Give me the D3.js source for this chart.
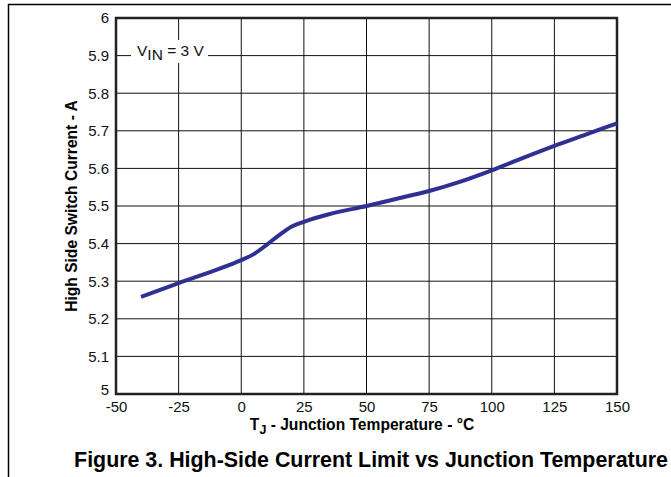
<!DOCTYPE html>
<html>
<head>
<meta charset="utf-8">
<script src="https://cdn.jsdelivr.net/npm/d3@7"></script>
<style>
  body { margin: 0; background: #fff; }
  svg { display: block; font-family: "Liberation Sans", Arial, sans-serif; }
</style>
</head>
<body>
<div id="chart"></div>
<script>
// junction temperature (°C) and current limit (A)
const tempC = [-40, -25, -10, 0, 5, 10, 15, 20, 25, 35, 50, 62.5, 75, 87.5, 100, 112.5, 125, 137.5, 150];
const currentA = [5.258, 5.295, 5.33, 5.356, 5.372, 5.396, 5.422, 5.445, 5.458, 5.478, 5.50, 5.52, 5.54, 5.565, 5.595, 5.628, 5.66, 5.69, 5.72];
const xTicks = [-50, -25, 0, 25, 50, 75, 100, 125, 150];
const yTicks = [5, 5.1, 5.2, 5.3, 5.4, 5.5, 5.6, 5.7, 5.8, 5.9, 6];

const W = 671, H = 477;
const margin = {left: 116, right: 54, top: 18, bottom: 83};

const svg = d3.select("#chart").append("svg")
	.attr("width", W)
	.attr("height", H);

// page frame
svg.append("line").attr("x1", 8).attr("x2", W).attr("y1", 4.5).attr("y2", 4.5)
	.attr("stroke", "#000").attr("stroke-width", 1.5);
svg.append("line").attr("x1", 8.5).attr("x2", 8.5).attr("y1", 4).attr("y2", H)
	.attr("stroke", "#000").attr("stroke-width", 1.5);

const x = d3.scaleLinear().domain([-50, 150]).range([margin.left, W - margin.right]);
const y = d3.scaleLinear().domain([5, 6]).range([H - margin.bottom, margin.top]);

// grid
const g = svg.append("g");
g.selectAll(".vg").data(xTicks).enter().append("line")
	.attr("x1", d => x(d)).attr("x2", d => x(d))
	.attr("y1", y(6)).attr("y2", y(5))
	.attr("stroke", "#111").attr("stroke-width", 1);
g.selectAll(".hg").data(yTicks).enter().append("line")
	.attr("x1", x(-50)).attr("x2", x(150))
	.attr("y1", d => y(d)).attr("y2", d => y(d))
	.attr("stroke", "#111").attr("stroke-width", 1);

// annotation box covering the grid
const ann = svg.append("g");
ann.append("rect")
	.attr("x", 131).attr("y", 40)
	.attr("width", 77).attr("height", 23)
	.attr("fill", "#fff");
const at = ann.append("text")
	.attr("x", 137).attr("y", y(5.9))
	.attr("font-size", 15.5).attr("fill", "#111");
at.append("tspan").text("V");
at.append("tspan").attr("dy", 4).text("IN");
at.append("tspan").attr("dy", -4).text(" = 3 V");

// plot frame
svg.append("rect")
	.attr("x", x(-50)).attr("y", y(6))
	.attr("width", x(150) - x(-50)).attr("height", y(5) - y(6))
	.attr("fill", "none").attr("stroke", "#222").attr("stroke-width", 2.5);

// axes
const xAxis = d3.axisBottom(x).tickValues(xTicks).tickSize(0).tickPadding(7).tickFormat(d => String(d));
const yAxis = d3.axisLeft(y).tickValues(yTicks).tickSize(0).tickPadding(7).tickFormat(d => String(d));
const xa = svg.append("g").attr("transform", "translate(0," + y(5) + ")").call(xAxis);
const ya = svg.append("g").attr("transform", "translate(" + x(-50) + ",0)").call(yAxis);
[xa, ya].forEach(a => {
	a.select(".domain").remove();
	a.selectAll("text").attr("font-size", 15).attr("fill", "#111")
		.attr("font-family", "'Liberation Sans', Arial, sans-serif");
});
ya.selectAll("text").attr("dy", d => d === 5 ? "0.05em" : "0.33em");
xa.selectAll("text").attr("dy", "0.71em");

// curve
const line = d3.line()
	.x((d, i) => x(tempC[i]))
	.y(d => y(d))
	.curve(d3.curveMonotoneX);
svg.append("path")
	.datum(currentA)
	.attr("d", line)
	.attr("fill", "none")
	.attr("stroke", "#2e3192")
	.attr("stroke-width", 4)
	.attr("stroke-linecap", "butt");

// axis titles
const xt = svg.append("text")
	.attr("x", 362).attr("y", 430)
	.attr("text-anchor", "middle").attr("font-weight", "bold").attr("font-size", 15.6);
xt.append("tspan").text("T");
xt.append("tspan").attr("dy", 4).attr("font-size", 12.5).text("J");
xt.append("tspan").attr("dy", -4).text(" - Junction Temperature - °C");

svg.append("text")
	.attr("transform", "translate(77,206) rotate(-90)")
	.attr("text-anchor", "middle").attr("font-weight", "bold").attr("font-size", 15.6)
	.text("High Side Switch Current - A");

svg.append("text")
	.attr("x", 371).attr("y", 467)
	.attr("text-anchor", "middle").attr("font-weight", "bold").attr("font-size", 21.4)
	.text("Figure 3. High-Side Current Limit vs Junction Temperature");
</script>
</body>
</html>
